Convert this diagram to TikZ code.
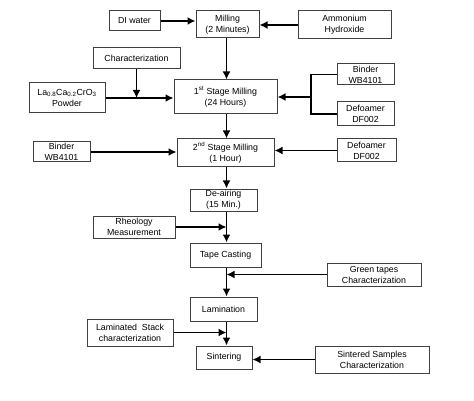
\documentclass[tikz,border=0pt]{standalone}
\usepackage{fontspec}
\setmainfont{Liberation Sans}
\usepackage{tikz}
\usetikzlibrary{arrows.meta}

\tikzset{
box/.style={draw=black!75, line width=1pt, align=center, inner sep=1pt, font=\fontsize{8.8}{11}\selectfont},
arr/.style={line width=1.6pt, -{Latex[length=8pt,width=8pt]}},
lin/.style={line width=1.6pt}
}

\begin{document}
\begin{tikzpicture}[x=1pt, y=-1pt]
\useasboundingbox (0,0) rectangle (474,401);
\coordinate (spine) at (226.5,0);
\coordinate (brk) at (311,97);
\node[box, minimum width=51pt, minimum height=20pt] (water) at (134.5,21) {DI water};
\node[box, minimum width=63pt, minimum height=27pt] (mill) at (227.5,24.5) {Milling\\(2 Minutes)};
\node[box, minimum width=93pt, minimum height=28pt] (ammon) at (344.5,25) {Ammonium\\Hydroxide};
\node[box, minimum width=87pt, minimum height=21pt] (charA) at (136.5,58.5) {Characterization};
\node[box, minimum width=76pt, minimum height=30pt] (powder) at (67,98) {La\textsubscript{0.8}Ca\textsubscript{0.2}CrO\textsubscript{3}\\Powder};
\node[box, minimum width=103pt, minimum height=34pt] (mill1) at (225.5,97) {1\textsuperscript{st} Stage Milling\\(24 Hours)};
\node[box, minimum width=57pt, minimum height=21pt] (binderA) at (365.5,74.5) {Binder\\WB4101};
\node[box, minimum width=57pt, minimum height=24pt] (defoamA) at (365.5,114) {Defoamer\\DF002};
\node[box, minimum width=97pt, minimum height=28pt] (mill2) at (225.5,153) {2\textsuperscript{nd} Stage Milling\\(1 Hour)};
\node[box, minimum width=57pt, minimum height=20pt] (binderB) at (61.5,152) {Binder\\WB4101};
\node[box, minimum width=59pt, minimum height=23pt] (defoamB) at (366.5,150.5) {Defoamer\\DF002};
\node[box, minimum width=67pt, minimum height=22pt] (deair) at (223.5,200) {De-airing\\(15 Min.)};
\node[box, minimum width=82pt, minimum height=22pt] (rheo) at (134,227) {Rheology\\Measurement};
\node[box, minimum width=71pt, minimum height=24pt] (tape) at (225.5,255) {Tape Casting};
\node[box, minimum width=94pt, minimum height=23pt] (green) at (374,274.5) {Green tapes\\Characterization};
\node[box, minimum width=67pt, minimum height=24pt] (lamin) at (223.5,309) {Lamination};
\node[box, minimum width=86pt, minimum height=27pt] (stack) at (130,332.5) {Laminated\ \ Stack\\characterization};
\node[box, minimum width=56pt, minimum height=23pt] (sinter) at (224,357.5) {Sintering};
\node[box, minimum width=114pt, minimum height=27pt] (sintS) at (372,359.5) {Sintered Samples\\Characterization};

\draw[arr] (water.east) -- (water.east -| mill.west);
\draw[arr] (ammon.west) -- (ammon.west -| mill.east);
\draw[arr] (mill.south -| spine) -- (mill1.north -| spine);
\draw[arr] (powder.east) -- (powder.east -| mill1.west);
\draw[arr] (charA.south) -- (charA.south |- powder.east);
\draw[lin] (binderA.west) -| (brk) |- (defoamA.west);
\draw[arr] (brk) -- (mill1.east);
\draw[arr] (mill1.south -| spine) -- (mill2.north -| spine);
\draw[arr] (binderB.east) -- (binderB.east -| mill2.west);
\draw[arr] (defoamB.west) -- (defoamB.west -| mill2.east);
\draw[arr] (mill2.south -| spine) -- (deair.north -| spine);
\draw[arr] (deair.south -| spine) -- (tape.north -| spine);
\draw[arr] (rheo.east) -- (rheo.east -| spine);
\draw[arr] (tape.south -| spine) -- (lamin.north -| spine);
\draw[arr] (green.west) -- (green.west -| spine);
\draw[arr] (lamin.south -| spine) -- (sinter.north -| spine);
\draw[arr] (stack.east) -- (stack.east -| spine);
\draw[arr] (sintS.west) -- (sintS.west -| sinter.east);
\end{tikzpicture}
\end{document}
